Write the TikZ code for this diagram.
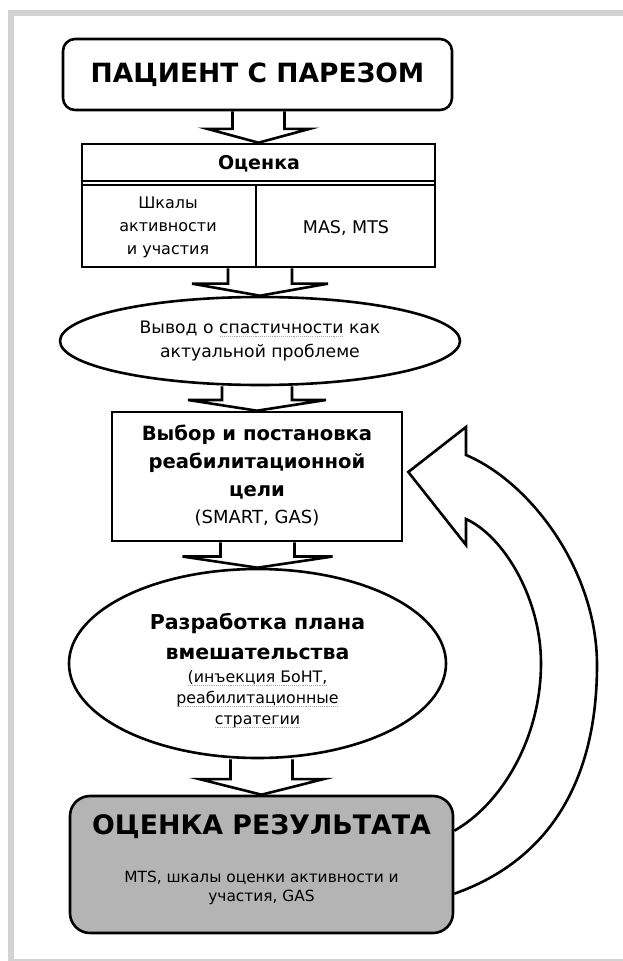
\documentclass[tikz,border=0pt]{standalone}
\usepackage{fontspec}
\setmainfont{DejaVu Sans}
\usetikzlibrary{shapes.geometric,calc}
\definecolor{framegray}{HTML}{D3D3D3}
\definecolor{resgray}{HTML}{B4B4B4}
\definecolor{squiggray}{HTML}{A8A8A8}
\newsavebox\sqbox
\newcommand\squig[1]{\sbox\sqbox{#1}\rlap{\textcolor{squiggray}{\raisebox{-3.5pt}{\hbox to \wd\sqbox{\xleaders\hbox{\kern0.5pt\rule{1.1pt}{1.1pt}\kern0.5pt}\hfill}}}}\usebox\sqbox}
\newcommand\fsz[2]{\fontsize{#1}{#2}\selectfont}
\tikzset{
  lw/.style={line width=2.6pt},
  shapebox/.style={draw, lw, inner sep=0pt, align=center},
  txt/.style={inner sep=0pt, align=center},
  blkarrow/.style={draw, lw, line join=miter},
  curvearrow/.style={draw, lw, line join=miter},
}
% block arrow: from node, to node, shaft half width, head half width
\newcommand\blk[4]{\draw[blkarrow] let \p1=(#1.south), \p2=(#2.north), \n1={\y1+0.56*(\y2-\y1)} in
  ({\x2-#3pt},\y1) -- ({\x2-#3pt},{\n1}) -- ({\x2-#4pt},{\n1}) -- (\x2,\y2)
  -- ({\x2+#4pt},{\n1}) -- ({\x2+#3pt},{\n1}) -- ({\x2+#3pt},\y1);}
\begin{document}
\begin{tikzpicture}[x=1pt,y=-1pt]
\useasboundingbox (0,0) rectangle (622,961);
\draw[framegray, line width=6pt] (11,13) rectangle (720,962);

% nodes
\node[shapebox, rounded corners=12pt, minimum width=389pt, minimum height=71pt,
      font=\bfseries\fsz{26.5}{30}] (patient) at (257.5,74.5) {ПАЦИЕНТ С ПАРЕЗОМ};

\node[shapebox, minimum width=353pt, minimum height=123pt] (eval) at (258.5,205.5) {};
\node[txt, font=\bfseries\fsz{19}{22}] (evalT) at (259,164) {Оценка};
\draw[line width=1.6pt] (eval.west |- 0,181) -- (eval.east |- 0,181);
\draw[line width=1.6pt] (eval.west |- 0,185) -- (eval.east |- 0,185);
\draw[lw] (256,185) -- (eval.south -| 256,0);
\node[txt, font=\fsz{16}{23}] (scales) at (168,227) {Шкалы\\активности\\и участия};
\node[txt, font=\fsz{17.5}{22}] (mas) at (346,228) {MAS, MTS};

\node[shapebox, ellipse, minimum width=400pt, minimum height=88pt,
      font=\fsz{17.2}{24}] (concl) at (260,341) {Вывод о \squig{спастичности} как\\актуальной проблеме};

\node[shapebox, minimum width=290pt, minimum height=129pt] (goal) at (257,476.5) {};
\node[txt, font=\bfseries\fsz{19.6}{28}] (goalT) at (257,462) {Выбор и постановка\\реабилитационной\\цели};
\node[txt, font=\fsz{18}{22}] (goalS) at (257,518) {(SMART, GAS)};

\node[shapebox, ellipse, minimum width=377pt, minimum height=189pt] (plan) at (257.5,663.5) {};
\node[txt, font=\bfseries\fsz{20.5}{30}] (planT) at (257.5,637) {Разработка  плана\\вмешательства};
\node[txt, font=\fsz{15.8}{21}] (planS) at (257.5,699) {\squig{(инъекция БоНТ,}\\\squig{реабилитационные}\\\squig{стратегии}};

\node[shapebox, fill=resgray, rounded corners=20pt, minimum width=383pt, minimum height=137pt] (result) at (261.5,864.5) {};
\node[txt, font=\bfseries\fsz{26.8}{30}] (resultT) at (261.5,827) {ОЦЕНКА РЕЗУЛЬТАТА};
\node[txt, font=\fsz{15.4}{18.5}] (resultS) at (261.5,888) {MTS, шкалы оценки активности и\\участия, GAS};

% block arrows
\blk{patient}{eval}{26}{51}
\blk{eval}{concl}{32}{68}
\blk{concl}{goal}{35}{69}
\blk{goal}{plan}{37}{75}
\blk{plan}{result}{31}{62}

% curved return arrow
\coordinate (ri) at ($(result.north east)+(0,36)$);
\coordinate (ro) at ($(result.north east)+(0,99)$);
\coordinate (tip) at ($(goal.east)+(5,-4.5)$);
\draw[curvearrow] (ri) .. controls (500,805) and (541,740) .. (541,663)
  .. controls (541,600) and (505,537) .. (466,519) -- (466,545) -- (tip)
  -- (466,427) -- (466,455) .. controls (530,482) and (597,570) .. (597,665)
  .. controls (597,780) and (550,860) .. (ro);
\end{tikzpicture}
\end{document}
